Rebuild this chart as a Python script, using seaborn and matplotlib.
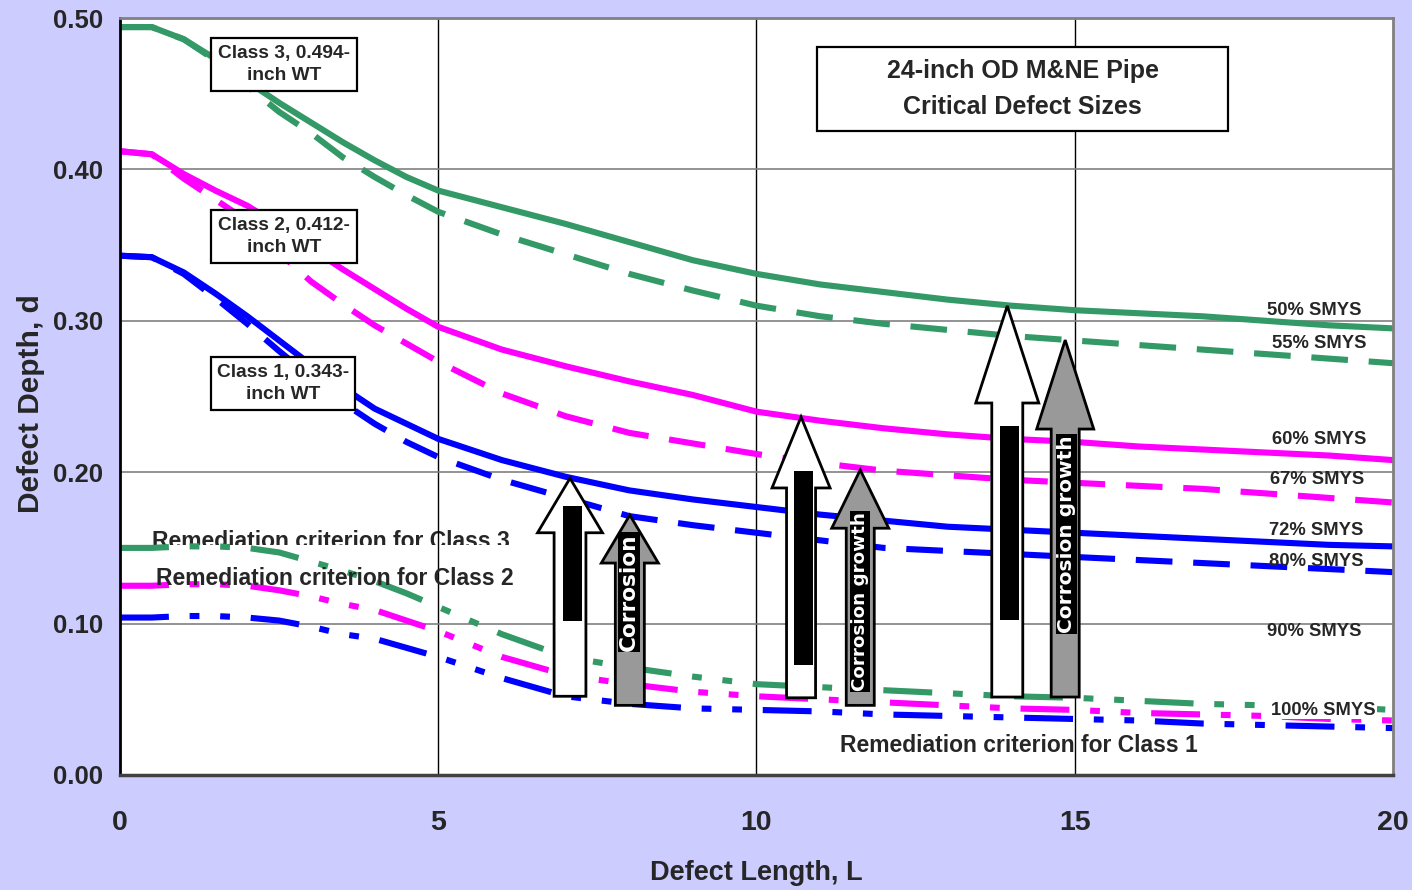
import numpy as np
import pandas as pd
import matplotlib
matplotlib.use("Agg")
import matplotlib.pyplot as plt
from matplotlib import font_manager
from matplotlib.patches import Polygon, Rectangle
from matplotlib.ticker import MultipleLocator, FormatStrFormatter
import seaborn as sns

# ---------------------------------------------------------------- data
length = [0, 0.5, 1, 1.5, 2, 2.5, 3, 3.5, 4, 4.5, 5, 6, 7, 8, 9, 10,
          11, 12, 13, 14, 15, 16, 17, 18, 19, 20]

# Class 3 (0.494-inch WT)
smys_50 = [0.494, 0.494, 0.486, 0.473, 0.458, 0.444, 0.431, 0.418, 0.406, 0.395,
           0.386, 0.375, 0.364, 0.352, 0.340, 0.331, 0.324, 0.319, 0.314, 0.310,
           0.307, 0.305, 0.303, 0.300, 0.297, 0.295]
smys_55 = [0.494, 0.494, 0.486, 0.472, 0.455, 0.438, 0.424, 0.408, 0.395, 0.383,
           0.372, 0.357, 0.344, 0.331, 0.320, 0.310, 0.303, 0.298, 0.294, 0.290,
           0.287, 0.284, 0.281, 0.278, 0.275, 0.272]
# Class 2 (0.412-inch WT)
smys_60 = [0.412, 0.410, 0.397, 0.386, 0.376, 0.363, 0.348, 0.334, 0.321, 0.308,
           0.296, 0.281, 0.270, 0.260, 0.251, 0.240, 0.234, 0.229, 0.225, 0.222,
           0.220, 0.217, 0.215, 0.213, 0.211, 0.208]
smys_67 = [0.412, 0.410, 0.394, 0.380, 0.366, 0.345, 0.326, 0.311, 0.297, 0.285,
           0.273, 0.252, 0.237, 0.226, 0.219, 0.212, 0.206, 0.201, 0.198, 0.195,
           0.193, 0.191, 0.189, 0.186, 0.183, 0.180]
# Class 1 (0.343-inch WT)
smys_72 = [0.343, 0.342, 0.332, 0.318, 0.303, 0.287, 0.271, 0.256, 0.242, 0.232,
           0.222, 0.208, 0.197, 0.188, 0.182, 0.177, 0.172, 0.168, 0.164, 0.162,
           0.160, 0.158, 0.156, 0.154, 0.152, 0.151]
smys_80 = [0.343, 0.342, 0.331, 0.315, 0.298, 0.280, 0.263, 0.246, 0.232, 0.220,
           0.210, 0.195, 0.183, 0.171, 0.165, 0.160, 0.155, 0.150, 0.148, 0.146,
           0.144, 0.142, 0.140, 0.138, 0.136, 0.134]
# Remediation criteria
remed_class3 = [0.150, 0.150, 0.151, 0.151, 0.150, 0.147, 0.141, 0.135, 0.128, 0.120,
                0.111, 0.093, 0.078, 0.071, 0.065, 0.060, 0.058, 0.056, 0.054, 0.052,
                0.051, 0.049, 0.047, 0.046, 0.045, 0.043]
remed_class2 = [0.125, 0.125, 0.126, 0.126, 0.125, 0.122, 0.118, 0.113, 0.109, 0.102,
                0.095, 0.078, 0.066, 0.060, 0.055, 0.052, 0.050, 0.048, 0.046, 0.044,
                0.043, 0.041, 0.040, 0.039, 0.037, 0.036]
remed_class1 = [0.104, 0.104, 0.105, 0.105, 0.104, 0.102, 0.098, 0.093, 0.090, 0.084,
                0.078, 0.064, 0.052, 0.047, 0.044, 0.043, 0.042, 0.040, 0.039, 0.038,
                0.037, 0.036, 0.034, 0.033, 0.032, 0.031]

curve_names = ["50% SMYS", "55% SMYS", "60% SMYS", "67% SMYS", "72% SMYS",
               "80% SMYS", "Class 3 remediation", "Class 2 remediation",
               "Class 1 remediation"]
curve_values = [smys_50, smys_55, smys_60, smys_67, smys_72, smys_80,
                remed_class3, remed_class2, remed_class1]

# curve labels written at the right edge
edge_labels = ["50% SMYS", "55% SMYS", "60% SMYS", "67% SMYS", "72% SMYS",
               "80% SMYS", "90% SMYS", "100% SMYS"]
x_ticks = [0, 5, 10, 15, 20]
y_ticks = [0.0, 0.1, 0.2, 0.3, 0.4, 0.5]

# ---------------------------------------------------------------- style
GREEN, MAGENTA, BLUE = "#339966", "#FF00FF", "#0000FF"
palette = dict(zip(curve_names, [GREEN, GREEN, MAGENTA, MAGENTA, BLUE, BLUE,
                                 GREEN, MAGENTA, BLUE]))
DASH = (6.0, 3.4)
DASH_DOT_DOT = (8.0, 3.4, 1.6, 3.4, 1.6, 3.4)
dash_map = dict(zip(curve_names, ["", DASH, "", DASH, "", DASH,
                                  DASH_DOT_DOT, DASH_DOT_DOT, DASH_DOT_DOT]))

sns.set_style("white")


def pick_font(*names):
    for name in names:
        try:
            font_manager.findfont(font_manager.FontProperties(family=name),
                                  fallback_to_default=False)
            return name
        except Exception:
            continue
    return "DejaVu Sans"


NARROW = pick_font("Liberation Sans Narrow", "Arial Narrow", "Liberation Sans")
WIDE = pick_font("Liberation Sans", "Arial")
IS_NARROW = NARROW != WIDE
plt.rcParams["font.family"] = [NARROW, "DejaVu Sans"]
plt.rcParams["font.weight"] = "bold"


def fs(size):
    # narrow faces are set larger than the regular fallback for the same width
    return size / 0.86 if IS_NARROW else size


frame = pd.DataFrame({
    "L": np.tile(length, len(curve_names)),
    "d": np.concatenate(curve_values),
    "curve": np.repeat(curve_names, len(length)),
})

W, H = 1412, 890
fig = plt.figure(figsize=(W / 100, H / 100), dpi=100, facecolor="#CCCCFF")
ax = fig.add_axes([120 / W, 1 - 775 / H, (1393 - 120) / W, (775 - 18) / H])
ax.set_facecolor("white")
ax.set_xlim(0, 20)
ax.set_ylim(0, 0.5)

# gridlines
for gx in x_ticks[1:-1]:
    ax.axvline(gx, color="#000000", lw=1.0, zorder=1.3)
for gy in y_ticks[1:-1]:
    ax.axhline(gy, color="#808080", lw=1.2, zorder=1.3)

sns.lineplot(data=frame, x="L", y="d", hue="curve", style="curve",
             palette=palette, dashes=dash_map, linewidth=4.4, legend=False,
             errorbar=None, ax=ax, zorder=2)
for line in ax.get_lines():
    line.set_dash_capstyle("butt")

# axes frame and ticks
for side in ("top", "right"):
    ax.spines[side].set_color("#808080")
    ax.spines[side].set_linewidth(2)
ax.spines["left"].set_color("black")
ax.spines["left"].set_linewidth(2)
ax.spines["bottom"].set_color("#404040")
ax.spines["bottom"].set_linewidth(2.5)

ax.set_xticks(x_ticks)
ax.set_yticks(y_ticks)
ax.xaxis.set_minor_locator(MultipleLocator(1))
ax.yaxis.set_minor_locator(MultipleLocator(0.02))
ax.xaxis.set_major_formatter(FormatStrFormatter("%d"))
ax.yaxis.set_major_formatter(FormatStrFormatter("%.2f"))
ax.tick_params(axis="x", which="major", direction="inout", length=10, width=1.2,
               color="black", pad=20, labelsize=fs(20.5))
ax.tick_params(axis="x", which="minor", direction="in", length=5, width=1.2,
               color="black")
ax.tick_params(axis="y", which="major", direction="inout", length=10, width=1.2,
               color="black", pad=7, labelsize=fs(18.5))
ax.tick_params(axis="y", which="minor", direction="out", length=5, width=1.2,
               color="black")
for lab in ax.get_xticklabels() + ax.get_yticklabels():
    lab.set_fontweight("bold")

ax.set_xlabel("Defect Length, L", fontsize=fs(19.5), fontweight="bold")
ax.xaxis.set_label_coords(0.5, -0.112)
ax.set_ylabel("Defect Depth, d", fontsize=21.5, fontweight="bold", family=WIDE)
ax.yaxis.set_label_coords(-0.059, 0.49)


# --------------------------------------------------------- annotations
def boxed_label(x0, x1, y0, y1, text, size, spacing):
    ax.add_patch(Rectangle((x0, y0), x1 - x0, y1 - y0, fc="white", ec="black",
                           lw=1.6, zorder=4))
    ax.text((x0 + x1) / 2, (y0 + y1) / 2, text, ha="center", va="center",
            fontsize=fs(size), fontweight="bold", linespacing=spacing,
            zorder=4.5)


boxed_label(10.95, 17.41, 0.4254, 0.4808,
            "24-inch OD M&NE Pipe\nCritical Defect Sizes", 18, 1.62)
boxed_label(1.43, 3.73, 0.4518, 0.4868, "Class 3, 0.494-\ninch WT", 13.8, 1.42)
boxed_label(1.43, 3.73, 0.3382, 0.3732, "Class 2, 0.412-\ninch WT", 13.8, 1.42)
boxed_label(1.43, 3.69, 0.2411, 0.2761, "Class 1, 0.343-\ninch WT", 13.8, 1.42)

# remediation notes
ax.text(0.50, 0.1502, "Remediation criterion for Class 3", ha="left",
        va="baseline", fontsize=fs(16.5), fontweight="bold", zorder=1.0)
ax.add_patch(Rectangle((0.40, 0.117), 5.9, 0.0351, fc="white", ec="none",
                       zorder=1.1))
ax.text(0.57, 0.1258, "Remediation criterion for Class 2", ha="left",
        va="baseline", fontsize=fs(16.5), fontweight="bold", zorder=3)
ax.text(11.31, 0.0152, "Remediation criterion for Class 1", ha="left",
        va="baseline", fontsize=fs(16.5), fontweight="bold", zorder=3)

# stress level labels
label_x = [18.02, 18.10, 18.10, 18.07, 18.05, 18.05, 18.02, 18.09]
label_y = [0.307, 0.2853, 0.2213, 0.1955, 0.1618, 0.1413, 0.0945, 0.0429]
for text, lx, ly in zip(edge_labels, label_x, label_y):
    box = None
    if text.startswith("100"):
        box = dict(fc="white", ec="none", pad=0.5)
    ax.text(lx, ly, text, ha="left", va="center", fontsize=fs(13.2),
            fontweight="bold", zorder=3, bbox=box)


def block_arrow(cx, bottom, base, tip, shaft_hw, head_hw, face):
    pts = [(cx - shaft_hw, bottom), (cx + shaft_hw, bottom), (cx + shaft_hw, base),
           (cx + head_hw, base), (cx, tip), (cx - head_hw, base),
           (cx - shaft_hw, base)]
    ax.add_patch(Polygon(pts, closed=True, fc=face, ec="black", lw=2,
                         joinstyle="miter", zorder=5))


# defect-size arrows (white) with the defect depth bar inside
white_arrows = [
    (7.07, 0.052, 0.160, 0.196, 0.25, 0.51),
    (10.70, 0.051, 0.1896, 0.2365, 0.228, 0.456),
    (13.94, 0.0515, 0.2457, 0.3098, 0.2435, 0.495),
]
depth_bars = [(6.96, 7.26, 0.102, 0.178),
              (10.59, 10.89, 0.0727, 0.2008),
              (13.83, 14.12, 0.1024, 0.2305)]
for arrow, bar in zip(white_arrows, depth_bars):
    block_arrow(*arrow, face="white")
    ax.add_patch(Rectangle((bar[0], bar[2]), bar[1] - bar[0], bar[3] - bar[2],
                           fc="black", ec="none", zorder=6))

# corrosion growth arrows (grey)
grey_arrows = [
    (8.01, 0.046, 0.140, 0.1717, 0.228, 0.448),
    (11.63, 0.046, 0.163, 0.2015, 0.22, 0.448),
    (14.85, 0.0515, 0.2285, 0.2873, 0.22, 0.448),
]
growth_text = [("Corrosion", 8.0, 0.121, 15.6),
               ("Corrosion growth", 11.63, 0.1143, 13.2),
               ("Corrosion growth", 14.87, 0.159, 14.5)]
for arrow, (txt, tx, ty, size) in zip(grey_arrows, growth_text):
    block_arrow(*arrow, face="#999999")
    ax.text(tx, ty, txt, rotation=90, ha="center", va="center", color="white",
            fontsize=size, fontweight="bold", family="DejaVu Sans", zorder=6,
            bbox=dict(fc="black", ec="none", pad=0.8))

fig.savefig("out.png", dpi=100, facecolor=fig.get_facecolor())
